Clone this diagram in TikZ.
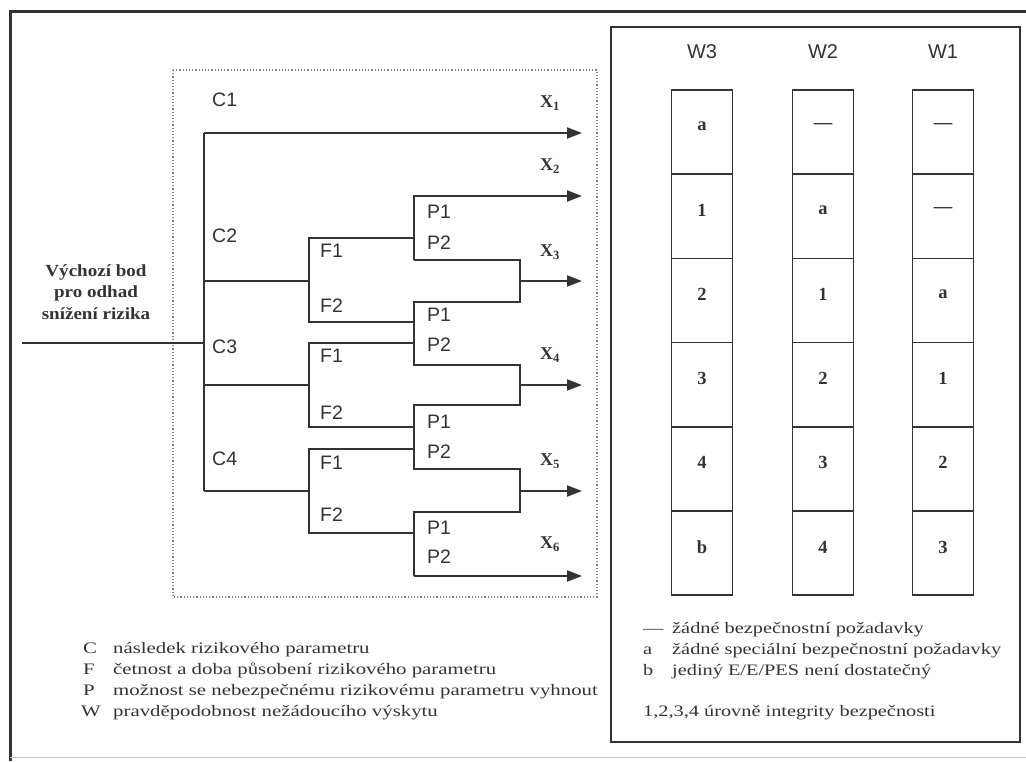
\documentclass[tikz,border=0pt]{standalone}
\usepackage{fontspec}
\setmainfont{Liberation Serif}
\newfontfamily\arialf{Liberation Sans}
\newfontfamily\legf[FakeStretch=1.3]{Liberation Serif}
\newfontfamily\rlegf[FakeStretch=1.27]{Liberation Serif}
\newfontfamily\startf[FakeStretch=1.12]{Liberation Serif}
\usetikzlibrary{arrows.meta}
\definecolor{ln}{HTML}{333333}
\begin{document}
\begin{tikzpicture}[x=1pt,y=-1pt,
  tree/.style={draw=ln, line width=2pt},
  arr/.style={tree, -{Triangle[length=15pt,width=11pt]}},
  lab/.style={font=\arialf\fontsize{19.5}{21}\selectfont, inner sep=0pt, anchor=west, text=ln},
  whead/.style={font=\arialf\fontsize{20}{22}\selectfont, inner sep=0pt, text=ln},
  xlab/.style={font=\bfseries\fontsize{18}{20}\selectfont, inner sep=0pt, text=ln},
  cellbox/.style={draw=ln, line width=1.6pt, minimum width=61pt, minimum height=84.2pt, inner sep=0pt},
  celltxt/.style={font=\bfseries\fontsize{18.5}{20}\selectfont, inner sep=0pt, text=ln},
  legtxt/.style={font=\legf\fontsize{16}{18}\selectfont, inner sep=0pt, anchor=west, text=ln, text height=11pt, text depth=4pt},
  rlegtxt/.style={font=\rlegf\fontsize{16}{18}\selectfont, inner sep=0pt, anchor=west, text=ln, text height=11pt, text depth=4pt},
]
\useasboundingbox (0,0) rectangle (1026,761);
% outer frame
\draw[line width=3pt, draw=ln] (10,761) -- (10,11) -- (1026,11);
\draw[line width=1pt, draw=gray!40] (10,757) -- (1026,757);
% dotted box
\draw[dotted, line width=1.2pt, draw=gray] (173,70) rectangle (597,597);
% right box
\draw[line width=2pt, draw=ln] (611,27) rectangle (1020,742);

% tree coordinates
\coordinate (in) at (22,343);
\coordinate (j0) at (204,343);
\coordinate (tT) at (204,133);
\coordinate (tB) at (204,491);
\coordinate (x1) at (582,133);
\coordinate (c2) at (204,281);
\coordinate (c3) at (204,385);
\coordinate (f2) at (309,281);
\coordinate (f3) at (309,385);
\coordinate (f4) at (309,491);
\coordinate (f2t) at (309,238);
\coordinate (f2b) at (309,322);
\coordinate (f3t) at (309,343);
\coordinate (f3b) at (309,427);
\coordinate (f4t) at (309,449);
\coordinate (f4b) at (309,533);
\coordinate (q1) at (414,238);
\coordinate (q2) at (414,322);
\coordinate (q3) at (414,343);
\coordinate (q4) at (414,427);
\coordinate (q5) at (414,449);
\coordinate (q6) at (414,533);
\coordinate (p1t) at (414,196);
\coordinate (p1b) at (414,260);
\coordinate (b1t) at (520,260);
\coordinate (b1b) at (520,302);
\coordinate (p2t) at (414,302);
\coordinate (p2b) at (414,365);
\coordinate (b2t) at (520,365);
\coordinate (b2b) at (520,405);
\coordinate (p3t) at (414,405);
\coordinate (p3b) at (414,469);
\coordinate (b3t) at (520,469);
\coordinate (b3b) at (520,512);
\coordinate (p4t) at (414,512);
\coordinate (p4b) at (414,576);
\coordinate (m1) at (520,281);
\coordinate (m2) at (520,385);
\coordinate (m3) at (520,491);
\coordinate (x2) at (582,196);
\coordinate (x3) at (582,281);
\coordinate (x4) at (582,385);
\coordinate (x5) at (582,491);
\coordinate (x6) at (582,576);

% tree
\draw[tree] (in) -- (j0);
\draw[tree] (tB) -- (tT);
\draw[arr] (tT) -- (x1);
\draw[tree] (c2) -- (f2);
\draw[tree] (c3) -- (f3);
\draw[tree] (tB) -- (f4);
\draw[tree] (q1) -- (f2t) -- (f2b) -- (q2);
\draw[tree] (q3) -- (f3t) -- (f3b) -- (q4);
\draw[tree] (q5) -- (f4t) -- (f4b) -- (q6);
\draw[arr] (p1b) -- (p1t) -- (x2);
\draw[tree] (p1b) -- (b1t) -- (b1b) -- (p2t) -- (p2b) -- (b2t) -- (b2b) -- (p3t) -- (p3b) -- (b3t) -- (b3b) -- (p4t) -- (p4b);
\draw[arr] (p4b) -- (x6);
\draw[arr] (m1) -- (x3);
\draw[arr] (m2) -- (x4);
\draw[arr] (m3) -- (x5);

% labels
\node[lab] (lc1) at (212,100) {C1};
\node[lab] (lc2) at (212,236) {C2};
\node[lab] (lc3) at (212,347) {C3};
\node[lab] (lc4) at (212,459) {C4};
\node[lab] (lf1) at (320,251) {F1};
\node[lab] (lf2) at (320,306) {F2};
\node[lab] (lf3) at (320,356) {F1};
\node[lab] (lf4) at (320,413) {F2};
\node[lab] (lf5) at (320,463) {F1};
\node[lab] (lf6) at (320,515) {F2};
\node[lab] (lp1) at (427,212) {P1};
\node[lab] (lp2) at (427,243) {P2};
\node[lab] (lp3) at (427,315) {P1};
\node[lab] (lp4) at (427,345) {P2};
\node[lab] (lp5) at (427,422) {P1};
\node[lab] (lp6) at (427,452) {P2};
\node[lab] (lp7) at (427,528) {P1};
\node[lab] (lp8) at (427,557) {P2};
\node[xlab] (lx1) at (550,103) {X\textsubscript{1}};
\node[xlab] (lx2) at (550,166) {X\textsubscript{2}};
\node[xlab] (lx3) at (550,252) {X\textsubscript{3}};
\node[xlab] (lx4) at (550,355) {X\textsubscript{4}};
\node[xlab] (lx5) at (550,461) {X\textsubscript{5}};
\node[xlab] (lx6) at (550,544) {X\textsubscript{6}};

\node[font=\startf\bfseries\fontsize{17}{21.5}\selectfont, align=center, inner sep=0pt, text=ln] (start) at (96,292) {Výchozí bod\\pro odhad\\snížení rizika};

% left legend
\node[legtxt] (lk1) at (83,650) {C};
\node[legtxt] (lk2) at (83,671) {F};
\node[legtxt] (lk3) at (83,692) {P};
\node[legtxt] (lk4) at (81,713) {W};
\node[legtxt] (lt1) at (113,650) {následek rizikového parametru};
\node[legtxt] (lt2) at (113,671) {četnost a doba působení rizikového parametru};
\node[legtxt] (lt3) at (113,692) {možnost se nebezpečnému rizikovému parametru vyhnout};
\node[legtxt] (lt4) at (113,713) {pravděpodobnost nežádoucího výskytu};

% right table
\node[whead] (w3) at (702,52) {W3};
\node[whead] (w2) at (823,52) {W2};
\node[whead] (w1) at (943,52) {W1};
\foreach \cx/\cn/\vals in {702/a/{a,1,2,3,4,b}, 823/b/{—,a,1,2,3,4}, 943/c/{—,—,a,1,2,3}}{
  \foreach \v [count=\i from 0] in \vals {
    \node[cellbox] (cell\cn\i) at (\cx, 90+84.2*\i+42.1) {};
    \node[celltxt] (txt\cn\i) at (\cx, 90+84.2*\i+36) {\v};
  }
}

% right legend
\node[rlegtxt] (rk1) at (643,630) {\textemdash};
\node[rlegtxt] (rk2) at (643,651) {a};
\node[rlegtxt] (rk3) at (643,672) {b};
\node[rlegtxt] (rt1) at (672,630) {žádné bezpečnostní požadavky};
\node[rlegtxt] (rt2) at (672,651) {žádné speciální bezpečnostní požadavky};
\node[rlegtxt] (rt3) at (672,672) {jediný E/E/PES není dostatečný};
\node[rlegtxt] (rt4) at (643,713) {1,2,3,4 úrovně integrity bezpečnosti};
\end{tikzpicture}
\end{document}
